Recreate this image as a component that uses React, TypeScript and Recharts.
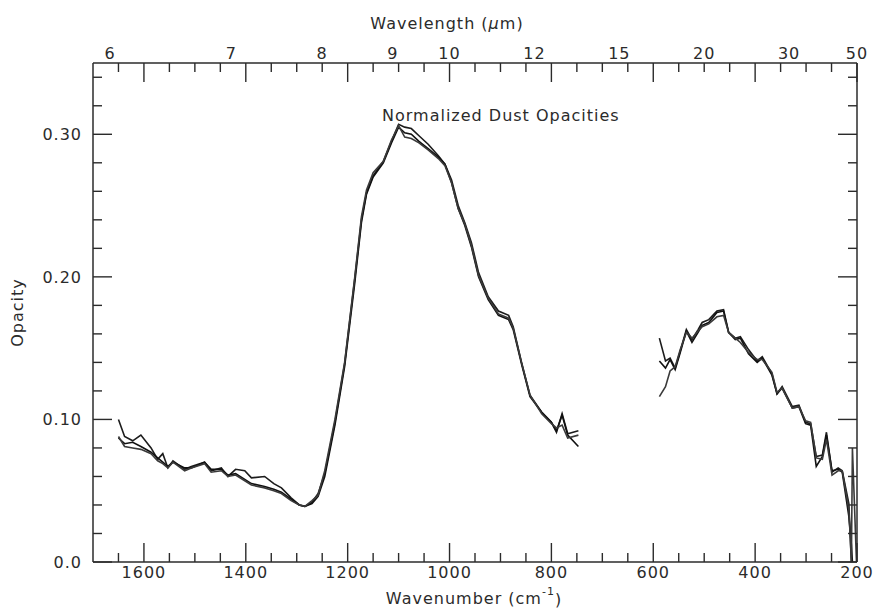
import React from 'react';
import { LineChart, Line, XAxis, YAxis } from 'recharts';

// wavenumber grid (cm^-1); 675 is the gap between the two spectral windows
const wavenumber = [
  1650, 1638, 1622, 1606, 1586, 1573, 1563, 1553, 1543, 1520,
  1507, 1481, 1468, 1448, 1435, 1420, 1402, 1389, 1363, 1345,
  1330, 1311, 1295, 1284, 1270, 1258, 1245, 1225, 1206, 1186,
  1173, 1163, 1150, 1130, 1114, 1100, 1088, 1075, 1060, 1042,
  1022, 1009, 996, 983, 970, 957, 943, 924, 904, 884,
  875, 858, 842, 819, 800, 790, 779, 768, 747, 675,
  588, 576, 567, 557, 547, 535, 524, 512, 504, 491,
  475, 462, 452, 439, 429, 413, 396, 386, 367, 357,
  347, 327, 314, 301, 291, 280, 268, 260, 249, 237,
  229, 216, 211, 209, 201,
];

const opacityA = [
  0.100, 0.088, 0.085, 0.089, 0.080, 0.072, 0.076, 0.066, 0.071, 0.065,
  0.067, 0.070, 0.064, 0.066, 0.060, 0.065, 0.064, 0.059, 0.060, 0.055,
  0.052, 0.045, 0.040, 0.039, 0.042, 0.048, 0.062, 0.098, 0.139, 0.199,
  0.240, 0.259, 0.271, 0.281, 0.295, 0.307, 0.305, 0.304, 0.299, 0.293,
  0.285, 0.279, 0.268, 0.250, 0.238, 0.224, 0.203, 0.186, 0.176, 0.173,
  0.165, 0.139, 0.117, 0.105, 0.098, 0.091, 0.104, 0.090, 0.092, null,
  0.157, 0.141, 0.143, 0.136, 0.148, 0.163, 0.156, 0.163, 0.168, 0.170,
  0.176, 0.177, 0.161, 0.157, 0.158, 0.149, 0.141, 0.144, 0.132, 0.118,
  0.123, 0.109, 0.110, 0.098, 0.097, 0.074, 0.075, 0.091, 0.063, 0.066,
  0.064, 0.041, 0.000, null, null,
];

const opacityB = [
  0.087, 0.083, 0.084, 0.081, 0.077, 0.073, 0.070, 0.067, 0.070, 0.066,
  0.066, 0.070, 0.065, 0.065, 0.061, 0.062, 0.058, 0.055, 0.053, 0.051,
  0.049, 0.044, 0.040, 0.039, 0.041, 0.046, 0.060, 0.096, 0.137, 0.196,
  0.238, 0.258, 0.270, 0.280, 0.294, 0.305, 0.301, 0.300, 0.295, 0.290,
  0.284, 0.279, 0.266, 0.248, 0.236, 0.221, 0.200, 0.184, 0.173, 0.170,
  0.163, 0.138, 0.116, 0.105, 0.098, 0.092, 0.103, 0.089, 0.081, null,
  0.141, 0.136, 0.142, 0.135, 0.147, 0.162, 0.154, 0.161, 0.166, 0.168,
  0.175, 0.176, 0.161, 0.156, 0.157, 0.146, 0.140, 0.143, 0.131, 0.118,
  0.122, 0.108, 0.109, 0.097, 0.096, 0.067, 0.074, 0.089, 0.064, 0.065,
  0.063, 0.032, 0.012, 0.000, null,
];

const opacityC = [
  0.088, 0.081, 0.080, 0.079, 0.076, 0.071, 0.069, 0.066, 0.070, 0.064,
  0.066, 0.069, 0.063, 0.064, 0.060, 0.061, 0.057, 0.054, 0.052, 0.050,
  0.048, 0.043, 0.040, 0.039, 0.043, 0.047, 0.064, 0.100, 0.140, 0.200,
  0.242, 0.261, 0.273, 0.281, 0.296, 0.306, 0.298, 0.297, 0.294, 0.289,
  0.283, 0.278, 0.266, 0.248, 0.237, 0.222, 0.201, 0.185, 0.174, 0.171,
  0.164, 0.139, 0.117, 0.104, 0.097, 0.094, 0.096, 0.087, 0.089, null,
  0.116, 0.123, 0.134, 0.137, 0.149, 0.161, 0.157, 0.162, 0.165, 0.167,
  0.172, 0.173, 0.161, 0.157, 0.154, 0.147, 0.142, 0.142, 0.133, 0.119,
  0.122, 0.108, 0.109, 0.099, 0.098, 0.073, 0.072, 0.086, 0.061, 0.064,
  0.064, 0.037, 0.000, 0.080, 0.000,
];

const wavenumberTicks = [
  1650, 1600, 1550, 1500, 1450, 1400, 1350, 1300, 1250, 1200,
  1150, 1100, 1050, 1000, 950, 900, 850, 800, 750, 700,
  650, 600, 550, 500, 450, 400, 350, 300, 250, 200,
];
const wavelengthLabels = [6, 7, 8, 9, 10, 12, 15, 20, 30, 50];
const opacityTicks = [0, 0.02, 0.04, 0.06, 0.08, 0.1, 0.12, 0.14, 0.16, 0.18, 0.2, 0.22, 0.24, 0.26, 0.28, 0.3, 0.32, 0.34];
const opacityMajor = [0, 0.1, 0.2, 0.3];
const opacityLabels = ['0.0', '0.10', '0.20', '0.30'];

const data = wavenumber.map((w, i) => ({ w, a: opacityA[i], b: opacityB[i], c: opacityC[i] }));

const topTicks = Array.from(
  new Set([...wavenumberTicks, ...wavelengthLabels.map((l) => 10000 / l)])
).sort((p, q) => q - p);

const INK = '#2b2b2b';
const textStyle = {
  fontFamily: '"DejaVu Sans", sans-serif',
  fontSize: 16,
  letterSpacing: 1,
  fill: INK,
};

const MAJOR = 19;
const MINOR = 9;

const BottomTick = ({ x, y, payload }: any) => {
  const v = payload.value;
  const major = v % 200 === 0;
  return (
    <g>
      <line x1={x} x2={x} y1={y} y2={y - (major ? MAJOR : MINOR)} stroke={INK} strokeWidth={1.4} />
      {major && (
        <text x={x} y={y + 16} textAnchor="middle" style={textStyle}>
          {v}
        </text>
      )}
    </g>
  );
};

const TopTick = ({ x, y, payload }: any) => {
  const v = payload.value;
  const isMark = wavenumberTicks.some((t) => Math.abs(t - v) < 0.01);
  const lbl = wavelengthLabels.find((l) => Math.abs(10000 / l - v) < 0.01);
  const major = v % 200 === 0;
  return (
    <g>
      {isMark && (
        <line x1={x} x2={x} y1={y} y2={y + (major ? MAJOR : MINOR)} stroke={INK} strokeWidth={1.4} />
      )}
      {lbl !== undefined && (
        <text x={x} y={y - 4} textAnchor="middle" style={textStyle}>
          {lbl}
        </text>
      )}
    </g>
  );
};

const majorIndex = (v: number) => opacityMajor.findIndex((m) => Math.abs(m - v) < 1e-6);

const LeftTick = ({ x, y, payload }: any) => {
  const idx = majorIndex(payload.value);
  return (
    <g>
      <line x1={x} x2={x + (idx >= 0 ? MAJOR : MINOR)} y1={y} y2={y} stroke={INK} strokeWidth={1.4} />
      {idx >= 0 && (
        <text x={x - 11} y={y + 6} textAnchor="end" style={textStyle}>
          {opacityLabels[idx]}
        </text>
      )}
    </g>
  );
};

const RightTick = ({ x, y, payload }: any) => {
  const idx = majorIndex(payload.value);
  return <line x1={x} x2={x - (idx >= 0 ? MAJOR : MINOR)} y1={y} y2={y} stroke={INK} strokeWidth={1.4} />;
};

const topLabel = ({ viewBox }: any) => {
  const { x, width, height } = viewBox;
  return (
    <g>
      <text x={x + width / 2 - 28} y={29} textAnchor="middle" style={textStyle}>
        Wavelength (<tspan fontStyle="italic">μ</tspan>m)
      </text>
      <text x={x + 289} y={height + 58} style={textStyle}>
        Normalized Dust Opacities
      </text>
    </g>
  );
};

const bottomLabel = ({ viewBox }: any) => {
  const { x, y, width } = viewBox;
  return (
    <text x={x + width / 2 - 1} y={y + 42} textAnchor="middle" style={textStyle}>
      Wavenumber (cm
      <tspan dy={-9} fontSize={11}>-1</tspan>
      <tspan dy={10}>)</tspan>
    </text>
  );
};

const leftLabel = ({ viewBox }: any) => {
  const { y, height } = viewBox;
  const cy = y + height / 2;
  return (
    <text x={23} y={cy} textAnchor="middle" transform={`rotate(-90, 23, ${cy})`} style={textStyle}>
      Opacity
    </text>
  );
};

const axisLine = { stroke: INK, strokeWidth: 1.5 };

const App: React.FC = () => {
  return (
    <div style={{ position: 'absolute', left: 0, top: 0, width: 875, height: 609, background: '#fff' }}>
      <LineChart width={875} height={609} data={data} margin={{ top: 0, right: 17, bottom: 0, left: 0 }}>
        <XAxis
          xAxisId="bottom"
          dataKey="w"
          type="number"
          domain={[200, 1700]}
          reversed
          allowDataOverflow
          orientation="bottom"
          height={47}
          ticks={wavenumberTicks}
          interval={0}
          tickSize={0}
          tickMargin={0}
          tickLine={false}
          tick={<BottomTick />}
          axisLine={axisLine}
          label={bottomLabel}
        />
        <XAxis
          xAxisId="top"
          dataKey="w"
          type="number"
          domain={[200, 1700]}
          reversed
          allowDataOverflow
          orientation="top"
          height={63}
          ticks={topTicks}
          interval={0}
          tickSize={0}
          tickMargin={0}
          tickLine={false}
          tick={<TopTick />}
          axisLine={axisLine}
          label={topLabel}
        />
        <YAxis
          yAxisId="left"
          type="number"
          domain={[0, 0.35]}
          allowDataOverflow
          width={93}
          ticks={opacityTicks}
          interval={0}
          tickSize={0}
          tickMargin={0}
          tickLine={false}
          tick={<LeftTick />}
          axisLine={axisLine}
          label={leftLabel}
        />
        <YAxis
          yAxisId="right"
          orientation="right"
          type="number"
          domain={[0, 0.35]}
          allowDataOverflow
          width={1}
          ticks={opacityTicks}
          interval={0}
          tickSize={0}
          tickMargin={0}
          tickLine={false}
          tick={<RightTick />}
          axisLine={axisLine}
        />
        <Line xAxisId="bottom" yAxisId="left" type="linear" dataKey="a" stroke="#1c1c1c" strokeWidth={1.6} dot={false} isAnimationActive={false} />
        <Line xAxisId="bottom" yAxisId="left" type="linear" dataKey="b" stroke="#111" strokeWidth={1.6} dot={false} isAnimationActive={false} />
        <Line xAxisId="bottom" yAxisId="left" type="linear" dataKey="c" stroke="#3a3a3a" strokeWidth={1.6} dot={false} isAnimationActive={false} />
      </LineChart>
    </div>
  );
};

export default App;
